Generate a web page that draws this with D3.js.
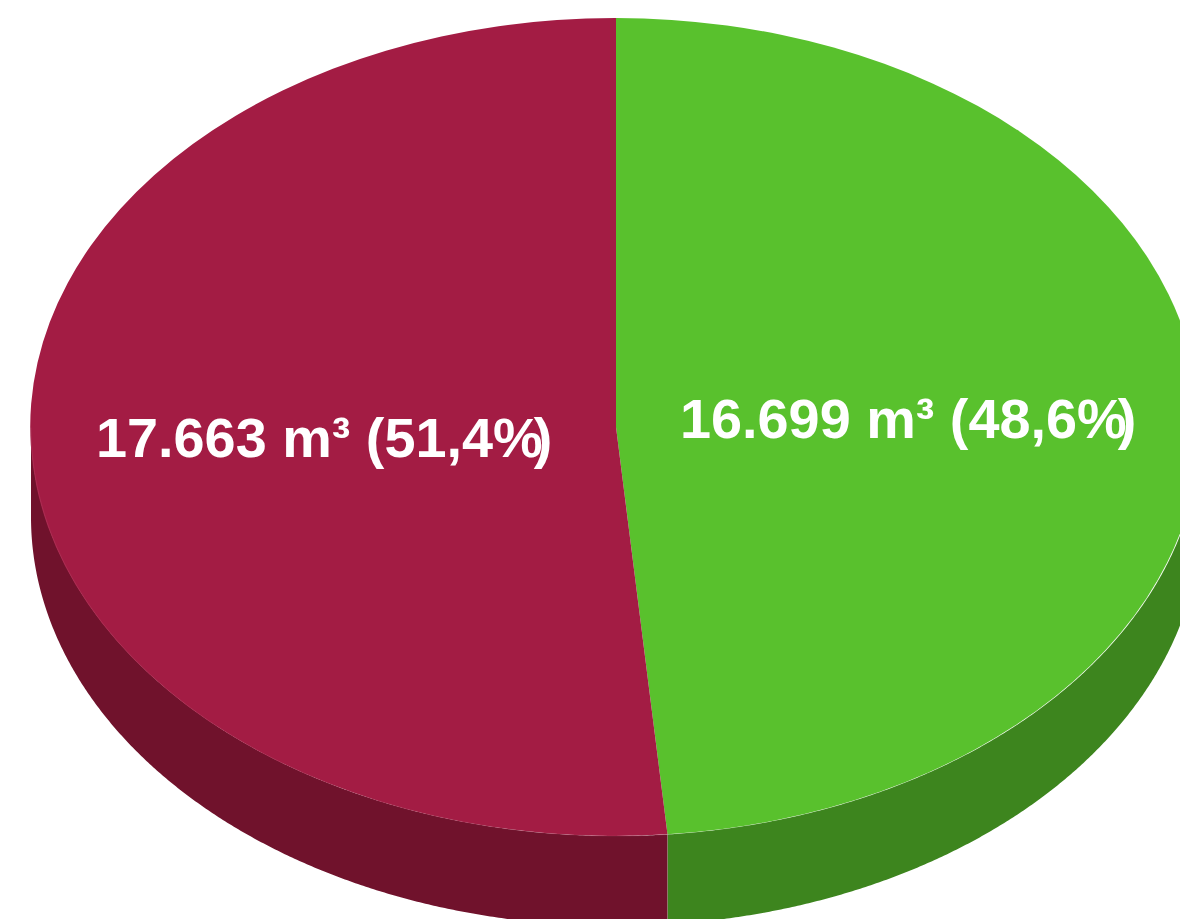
<!DOCTYPE html>
<html>
<head>
<meta charset="utf-8">
<style>
  html, body { margin: 0; padding: 0; background: #fff; overflow: hidden; }
  text { font-family: "Liberation Sans", Arial, sans-serif; font-weight: 700; fill: #fff; }
</style>
<script src="https://cdn.jsdelivr.net/npm/d3@7"></script>
</head>
<body>
<div id="chart"></div>
<script>
// volumes in m3, clockwise from 12 o'clock
const categories = ["green", "maroon"];
const values = [16699, 17663];
const valueLabels = ["16.699 m³ (48,6%", "17.663 m³ (51,4%"];

const width = 1180, height = 919;
const cx = 616, cy = 427, rx = 585, ry = 409, depth = 90;

const topColor = d3.scaleOrdinal().domain(categories).range(["#59c12d", "#a31c44"]);
const sideColor = d3.scaleOrdinal().domain(categories).range(["#3d851e", "#70122c"]);

const svg = d3.select("#chart").append("svg")
  .attr("width", width).attr("height", height)
  .style("display", "block");

const slices = d3.pie().sort(null).value(d => d.value)(
  categories.map((c, i) => ({ cat: c, value: values[i], label: valueLabels[i] }))
);

// side wall: only the front half of the disc shows (90deg..270deg from top)
const wall = d3.area()
  .x(a => cx + rx * Math.sin(a))
  .y0(a => cy - ry * Math.cos(a))
  .y1(a => cy - ry * Math.cos(a) + depth);

slices.forEach(s => {
  const a0 = Math.max(s.startAngle, Math.PI / 2);
  const a1 = Math.min(s.endAngle, Math.PI * 1.5);
  if (a1 <= a0) return;
  svg.append("path")
    .attr("d", wall(d3.range(a0, a1, 0.005).concat(a1)))
    .attr("fill", sideColor(s.data.cat));
});

// seam between the two wall pieces
const seamAngle = slices[0].endAngle;
svg.append("line")
  .attr("x1", cx + rx * Math.sin(seamAngle)).attr("x2", cx + rx * Math.sin(seamAngle))
  .attr("y1", cy - ry * Math.cos(seamAngle)).attr("y2", cy - ry * Math.cos(seamAngle) + depth)
  .attr("stroke", "#fff").attr("stroke-opacity", 0.2).attr("stroke-width", 0.5);

// top face: unit arc stretched into the ellipse
const arc = d3.arc().innerRadius(0).outerRadius(1);
svg.append("g")
  .attr("transform", `translate(${cx},${cy}) scale(${rx},${ry})`)
  .selectAll("path")
  .data(slices)
  .join("path")
  .attr("d", arc)
  .attr("fill", d => topColor(d.data.cat));

// thin pale rim where the top face meets the wall
svg.append("path")
  .attr("d", wall.lineY0()(d3.range(Math.PI / 2, Math.PI * 1.5, 0.005)))
  .attr("fill", "none").attr("stroke", "#fff").attr("stroke-opacity", 0.15).attr("stroke-width", 0.5);

// labels: the closing bracket sits on top of the percent sign in the original
const labelPos = [[680, 438], [96, 457]];
slices.forEach((s, i) => {
  const t = svg.append("text")
    .attr("x", labelPos[i][0]).attr("y", labelPos[i][1])
    .attr("font-size", 55.8);
  t.append("tspan").text(s.data.label);
  t.append("tspan").attr("dx", -9).text(")");
});
</script>
</body>
</html>
